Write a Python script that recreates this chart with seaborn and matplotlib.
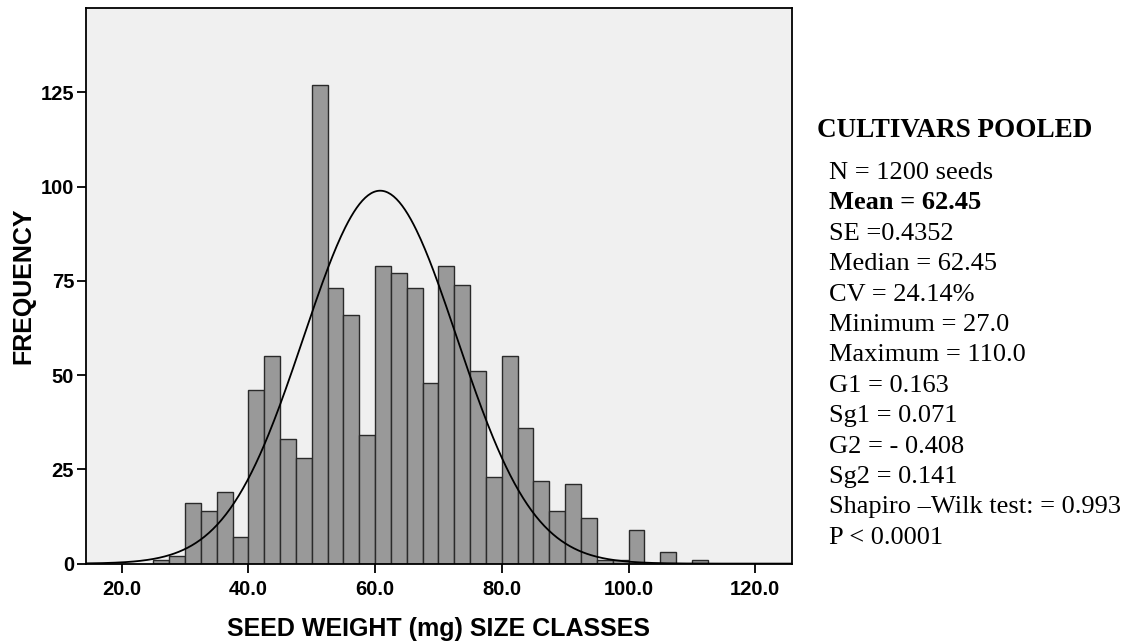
import numpy as np
import pandas as pd
import matplotlib
matplotlib.use("Agg")
import matplotlib.pyplot as plt
import seaborn as sns

# ---- data ----
bin_left = [25.0, 27.5, 30.0, 32.5, 35.0, 37.5, 40.0, 42.5, 45.0, 47.5,
            50.0, 52.5, 55.0, 57.5, 60.0, 62.5, 65.0, 67.5, 70.0, 72.5,
            75.0, 77.5, 80.0, 82.5, 85.0, 87.5, 90.0, 92.5, 95.0, 97.5,
            100.0, 102.5, 105.0, 107.5, 110.0]
counts = [1, 2, 16, 14, 19, 7, 46, 55, 33, 28,
          127, 73, 66, 34, 79, 77, 73, 48, 79, 74,
          51, 23, 55, 36, 22, 14, 21, 12, 1, 1,
          9, 0, 3, 0, 1]
bin_width = 2.5
curve_mean = 60.8     # centre of the fitted normal curve
curve_sd = 12.1       # spread of the fitted normal curve
n_total = 1200
x_ticks = [20.0, 40.0, 60.0, 80.0, 100.0, 120.0]
x_ticklabels = ["20.0", "40.0", "60.0", "80.0", "100.0", "120.0"]
y_ticks = [0, 25, 50, 75, 100, 125]
x_label = "SEED WEIGHT (mg) SIZE CLASSES"
y_label = "FREQUENCY"
panel_title = "CULTIVARS POOLED"
panel_lines = ["N = 1200 seeds", "Mean = 62.45", "SE =0.4352", "Median = 62.45",
               "CV = 24.14%", "Minimum = 27.0", "Maximum = 110.0", "G1 = 0.163",
               "Sg1 = 0.071", "G2 = - 0.408", "Sg2 = 0.141",
               "Shapiro \u2013Wilk test: = 0.993", "P < 0.0001"]
bold_lines = ["Mean = 62.45"]

sns.set_theme(style="ticks")
plt.rcParams["font.family"] = ["Liberation Sans", "DejaVu Sans"]
plt.rcParams["text.color"] = "black"
plt.rcParams["axes.labelcolor"] = "black"
plt.rcParams["xtick.color"] = "black"
plt.rcParams["ytick.color"] = "black"

df = pd.DataFrame({"mid": np.array(bin_left) + bin_width / 2,
                   "count": np.array(counts, dtype=float)})

fig = plt.figure(figsize=(11.27, 6.42), dpi=100)
ax = fig.add_axes([0.0763, 0.1221, 0.7027 - 0.0763, 0.9883 - 0.1221])
ax.set_facecolor("#F0F0F0")

sns.histplot(data=df, x="mid", weights="count", binwidth=bin_width,
             binrange=(bin_left[0], bin_left[-1] + bin_width), ax=ax,
             color="#999999", edgecolor="#2a2a2a", linewidth=1.0, alpha=1.0)

xs = np.linspace(14.0, 126.0, 500)
ys = n_total * bin_width * np.exp(-0.5 * ((xs - curve_mean) / curve_sd) ** 2) / (curve_sd * np.sqrt(2 * np.pi))
sns.lineplot(x=xs, y=ys, ax=ax, color="black", linewidth=1.3, zorder=5)

ax.set_xlim(14.36, 125.8)
ax.set_ylim(0, 147.5)
ax.set_xticks(x_ticks)
ax.set_xticklabels(x_ticklabels)
ax.set_yticks(y_ticks)
for s in ax.spines.values():
    s.set_visible(True)
    s.set_color("black")
    s.set_linewidth(1.3)
ax.tick_params(axis="both", direction="out", length=6.5, width=1.3, color="black",
               labelcolor="black", labelsize=14.5)
ax.tick_params(axis="x", pad=5)
ax.tick_params(axis="y", pad=2)
for lab in ax.get_xticklabels() + ax.get_yticklabels():
    lab.set_fontweight("bold")
ax.set_xlabel(x_label, fontsize=18, fontweight="bold", labelpad=13, color="black")
ax.set_ylabel(y_label, fontsize=18, fontweight="bold", labelpad=4, color="black")

serif = ["Liberation Serif", "DejaVu Serif"]
fig.text(817 / 1127, 1 - 136.7 / 642, panel_title, family=serif, fontsize=19.5,
         fontweight="bold", va="baseline", ha="left", color="black")
y0 = 179.0
for i, line in enumerate(panel_lines):
    fig.text(829 / 1127, 1 - (y0 + 30.4 * i) / 642, line, family=serif, fontsize=19,
             fontweight="bold" if line in bold_lines else "normal",
             va="baseline", ha="left", color="black")

fig.savefig("out.png", dpi=100)
